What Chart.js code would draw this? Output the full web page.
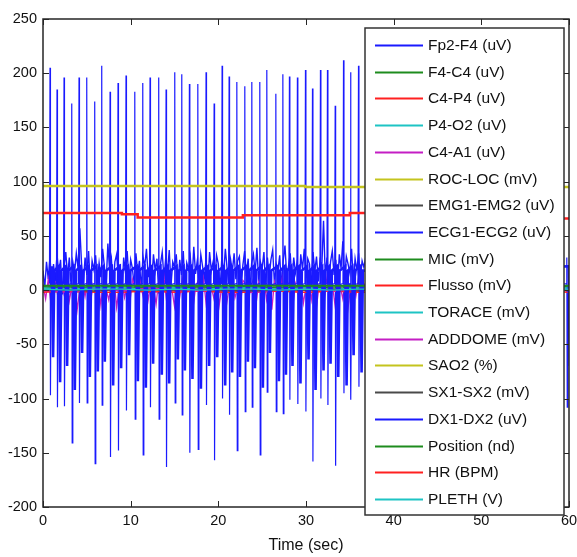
<!DOCTYPE html>
<html>
<head>
<meta charset="utf-8">
<script src="https://cdn.jsdelivr.net/npm/chart.js@4"></script>
<style>
  html, body { margin: 0; padding: 0; background: #fff; }
  canvas { display: block; }
</style>
</head>
<body>
<canvas id="psg" width="577" height="557"></canvas>
<script>
// channel names and the matlab colour cycle (b g r c m y k)
const seriesNames = ['Fp2-F4 (uV)', 'F4-C4 (uV)', 'C4-P4 (uV)', 'P4-O2 (uV)', 'C4-A1 (uV)', 'ROC-LOC (mV)',
  'EMG1-EMG2 (uV)', 'ECG1-ECG2 (uV)', 'MIC (mV)', 'Flusso (mV)', 'TORACE (mV)', 'ADDDOME (mV)',
  'SAO2 (%)', 'SX1-SX2 (mV)', 'DX1-DX2 (uV)', 'Position (nd)', 'HR (BPM)', 'PLETH (V)'];
const seriesColors = ['#1a1aff', '#1e8c1e', '#ff2020', '#1ec4c4', '#c41ec4', '#c4c41e', '#4a4a4a',
  '#1a1aff', '#1e8c1e', '#ff2020', '#1ec4c4', '#c41ec4', '#c4c41e', '#4a4a4a',
  '#1a1aff', '#1e8c1e', '#ff2020', '#1ec4c4'];

const xTicks = [0, 10, 20, 30, 40, 50, 60];
const yTicks = [-200, -150, -100, -50, 0, 50, 100, 150, 200, 250];

// heart beats (sec) with spike top / bottom, plus the wide negative lobe after each beat
const beatTimes = [0.80, 1.60, 2.40, 3.28, 4.11, 4.99, 5.90, 6.70, 7.65, 8.56, 9.47, 10.47, 11.38, 12.21,
  13.20, 14.04, 15.03, 15.83, 16.70, 17.66, 18.60, 19.52, 20.43, 21.23, 22.11, 23.02, 23.82, 24.73, 25.53,
  26.56, 27.36, 28.11, 29.02, 29.94, 30.74, 31.65, 32.45, 33.33, 34.28, 35.08, 35.99, 59.75];
const beatPeak = [205, 185, 196, 172, 196, 196, 174, 207, 183, 191, 198, 183, 191, 196, 196, 185, 201,
  199, 190, 190, 201, 172, 207, 197, 192, 188, 192, 192, 203, 181, 199, 197, 196, 203, 186, 203, 203,
  170, 212, 201, 207, 30];
const beatTrough = [-97, -108, -107, -141, -104, -104, -160, -106, -154, -148, -111, -119, -152, -108,
  -119, -163, -104, -115, -150, -147, -106, -157, -100, -115, -148, -112, -108, -152, -94, -112, -114,
  -101, -105, -112, -158, -100, -106, -162, -95, -101, -89, -108];
const beatLobe = [-62, -85, -70, -92, -58, -80, -75, -66, -88, -72, -60, -84, -90, -68, -78, -86, -64,
  -74, -82, -91, -70, -62, -88, -76, -80, -66, -72, -90, -58, -84, -78, -70, -86, -64, -92, -74, -68,
  -80, -88, -60, -76, -70];

// frontal EEG, one sample every 0.2 s
const fp2Step = 0.2;
const fp2f4 = [18, 2, 26, 10, 31, 0, 24, 8, 33, 14,
  28, -4, 22, 35, 12, 30, 4, 26, 16, 34,
  20, 57, 24, 6, 30, 14, 36, 2, 27, 19,
  32, 8, 25, 12, 38, 22, 5, 43, 18, 29,
  3, 26, 33, 11, 24, -6, 30, 17, 36, 9,
  28, 20, 4, 34, 15, 27, 0, 31, 22, 38,
  12, 25, 6, 33, 18, 29, -3, 24, 35, 10,
  30, 16, 37, 4, 26, 21, 33, 7, 28, 14,
  36, 2, 25, 19, 31, 8, 40, 15, 27, 5,
  33, 22, 11, 29, 3, 35, 18, 26, 9, 32,
  24, 0, 30, 14, 38, 20, 6, 28, 17, 34,
  10, 27, 31, 4, 23, 36, 13, 29, -2, 25,
  33, 16, 39, 8, 26, 20, 35, 3, 30, 12,
  28, 37, 6, 24, 18, 32, 1, 27, 41, 13,
  22, 34, 7, 30, 16, 26, -4, 33, 19, 38,
  11, 29, 24, 3, 35, 17, 31, 8, 27, 21,
  64, 12, 30, 5, 26, 36, 14, 28, 2, 33,
  20, 45, 9, 31, 24, 16, 38, 6, 29, 18,
  34, 10, 27, 21, 30];

// C4-A1, one sample every 0.3 s
const c4a1Step = 0.3;
const c4a1 = [5, -8, 10, -12, 3, 8, -15, 6, -4, 12,
  -10, 4, 9, -18, 2, 7, -6, 11, -12, 5,
  -3, 8, -14, 10, 1, -9, 6, 12, -16, 3,
  9, -7, 4, -12, 10, 2, -20, 7, -5, 11,
  -9, 6, 3, -13, 9, -4, 12, -10, 5, 1,
  -15, 8, -6, 10, -11, 4, 7, -17, 2, 9,
  -5, 11, -12, 6, 3, -8, 10, -14, 4, 8,
  -10, 5, 12, -7, 2, -16, 9, 6, -11, 3,
  10, -13, 7, -4, 11, -9, 5, -18, 8, 2,
  -6, 12, -10, 4, 9, -14, 6, -3, 10, -12,
  3, 8, -9, 11, -15, 5, 2, -7, 12, -10,
  6, -13, 9, 4, -8, 10, -16, 3, 7, -5,
  11, -9, 4, 8];

// slow channels, one sample every 3 s
const slowStep = 3;
const f4c4 = [3, 4, 2, 5, 3, 4, 3, 2, 4, 5, 3, 4, 3, 2, 4, 3, 5, 4, 3, 4, 3];
const c4p4 = [-1, -2, -1, 0, -2, -1, -1, -2, 0, -1, -2, -1, -1, 0, -2, -1, -1, -2, -1, 0, -1];
const p4o2 = [1, 2, 0, 1, 2, 1, 0, 2, 1, 1, 2, 0, 1, 2, 1, 1, 0, 2, 1, 1, 2];
const rocloc = [0, 1, -1, 0, 1, 0, -1, 1, 0, 0, 1, -1, 0, 1, 0, -1, 0, 1, 0, -1, 0];
const emg = [0, 0, 1, -1, 0, 1, 0, -1, 0, 1, 0, 0, -1, 1, 0, 0, 1, -1, 0, 0, 1];
const mic = [2, 3, 2, 3, 2, 2, 3, 2, 3, 2, 3, 2, 2, 3, 2, 3, 2, 2, 3, 2, 3];
const flusso = [-2, -1, -2, -2, -1, -2, -1, -2, -2, -1, -2, -1, -2, -2, -1, -2, -1, -2, -2, -1, -2];
const torace = [2, 1, 2, 2, 1, 2, 1, 2, 2, 1, 2, 1, 2, 2, 1, 2, 1, 2, 2, 1, 2];
const addome = [0, -2, 1, -1, 2, 0, -1, 1, -2, 0, 1, -1, 0, 2, -1, 0, 1, -2, 0, 1, 0];
const sx1sx2 = [0, 0, -1, 1, 0, 0, 1, 0, -1, 0, 0, 1, 0, -1, 0, 0, 1, 0, 0, -1, 0];
const pleth = [1, 0, 1, 1, 0, 1, 0, 1, 1, 0, 1, 0, 1, 1, 0, 1, 0, 1, 1, 0, 1];

// step channels
const sao2Times = [0, 29.9, 60];
const sao2 = [96, 95, 95];
const hrTimes = [0, 9.0, 10.8, 22.8, 35.0, 47.0, 60];
const hr = [71, 70, 67, 69, 71, 66, 66];
const posTimes = [0, 60];
const position = [4, 4];

const sampled = (vals, step) => vals.map((v, i) => ({ x: i * step, y: v }));
const paired = (times, vals) => times.map((t, i) => ({ x: t, y: vals[i] }));

const ecg = [];
const dx = [];
beatTimes.forEach((t, i) => {
  ecg.push({ x: t - 0.06, y: 6 }, { x: t, y: beatPeak[i] }, { x: t + 0.05, y: beatTrough[i] }, { x: t + 0.12, y: 4 });
  dx.push({ x: t + 0.2, y: 22 }, { x: t + 0.35, y: beatLobe[i] }, { x: t + 0.5, y: 18 });
});

const channelData = [
  sampled(fp2f4, fp2Step), sampled(f4c4, slowStep), sampled(c4p4, slowStep), sampled(p4o2, slowStep),
  sampled(c4a1, c4a1Step), sampled(rocloc, slowStep), sampled(emg, slowStep), ecg,
  sampled(mic, slowStep), sampled(flusso, slowStep), sampled(torace, slowStep), sampled(addome, slowStep),
  paired(sao2Times, sao2), sampled(sx1sx2, slowStep), dx, paired(posTimes, position),
  paired(hrTimes, hr), sampled(pleth, slowStep)
];
const widths = { 'SAO2 (%)': 2.5, 'HR (BPM)': 2.5, 'Position (nd)': 2, 'DX1-DX2 (uV)': 2.6, 'Fp2-F4 (uV)': 1.4, 'C4-A1 (uV)': 1.3, 'ECG1-ECG2 (uV)': 1.2 };
const stepped = ['SAO2 (%)', 'HR (BPM)'];

const datasets = seriesNames.map((name, i) => ({
  label: name,
  data: channelData[i],
  borderColor: seriesColors[i],
  backgroundColor: seriesColors[i],
  borderWidth: widths[name] || 1.2,
  stepped: stepped.includes(name),
  pointRadius: 0,
  tension: 0,
  fill: false,
  order: seriesNames.length - i   // later channels on top, like matlab
}));

// matlab style box with inward ticks on all four sides
const axesBox = {
  id: 'axesBox',
  afterDatasetsDraw(chart) {
    const { ctx, chartArea: a, scales: { x, y } } = chart;
    ctx.save();
    ctx.strokeStyle = '#262626';
    ctx.lineWidth = 1.5;
    ctx.strokeRect(a.left, a.top, a.right - a.left, a.bottom - a.top);
    ctx.beginPath();
    x.ticks.forEach(t => {
      const px = Math.round(x.getPixelForValue(t.value)) + 0.5;
      ctx.moveTo(px, a.bottom); ctx.lineTo(px, a.bottom - 6);
      ctx.moveTo(px, a.top); ctx.lineTo(px, a.top + 6);
    });
    y.ticks.forEach(t => {
      const py = Math.round(y.getPixelForValue(t.value)) + 0.5;
      ctx.moveTo(a.left, py); ctx.lineTo(a.left + 6, py);
      ctx.moveTo(a.right, py); ctx.lineTo(a.right - 6, py);
    });
    ctx.lineWidth = 1;
    ctx.stroke();
    ctx.restore();
  }
};

// legend box laid over the right part of the axes
const boxLegend = {
  id: 'boxLegend',
  afterDraw(chart) {
    const ctx = chart.ctx;
    const L = 365, T = 28, R = 564, B = 515;
    ctx.save();
    ctx.fillStyle = '#fff';
    ctx.fillRect(L, T, R - L, B - T);
    ctx.strokeStyle = '#333';
    ctx.lineWidth = 1.5;
    ctx.strokeRect(L, T, R - L, B - T);
    ctx.font = '15.5px "Liberation Sans", Arial, sans-serif';
    ctx.textBaseline = 'middle';
    chart.data.datasets.forEach((ds, i) => {
      const yy = Math.round(45 + i * 26.7) + 0.5;
      ctx.strokeStyle = ds.borderColor;
      ctx.lineWidth = 2;
      ctx.beginPath();
      ctx.moveTo(375, yy);
      ctx.lineTo(423, yy);
      ctx.stroke();
      ctx.fillStyle = '#111';
      ctx.fillText(ds.label, 428, yy);
    });
    ctx.restore();
  }
};

Chart.defaults.font.family = '"Liberation Sans", Arial, sans-serif';
Chart.defaults.color = '#111';

new Chart(document.getElementById('psg'), {
  type: 'line',
  data: { datasets },
  options: {
    responsive: false,
    animation: false,
    layout: { padding: { top: 19, right: 8, bottom: 0, left: 0 } },
    plugins: { legend: { display: false }, tooltip: { enabled: false } },
    scales: {
      x: {
        type: 'linear',
        min: 0,
        max: 60,
        afterBuildTicks: s => { s.ticks = xTicks.map(v => ({ value: v })); },
        afterFit: s => { s.height = 50; s.paddingLeft = 0; s.paddingRight = 0; },
        grid: { display: false, drawTicks: false },
        border: { display: false },
        ticks: { font: { size: 14.5 }, padding: 5, maxRotation: 0, autoSkip: false },
        title: { display: true, text: 'Time (sec)', font: { size: 16 }, padding: { top: 0, bottom: 2 } }
      },
      y: {
        type: 'linear',
        min: -200,
        max: 250,
        afterBuildTicks: s => { s.ticks = yTicks.map(v => ({ value: v })); },
        afterFit: s => { s.width = 43; s.paddingTop = 0; s.paddingBottom = 0; },
        grid: { display: false, drawTicks: false },
        border: { display: false },
        ticks: { font: { size: 14.5 }, padding: 6 }
      }
    }
  },
  plugins: [axesBox, boxLegend]
});
</script>
</body>
</html>
